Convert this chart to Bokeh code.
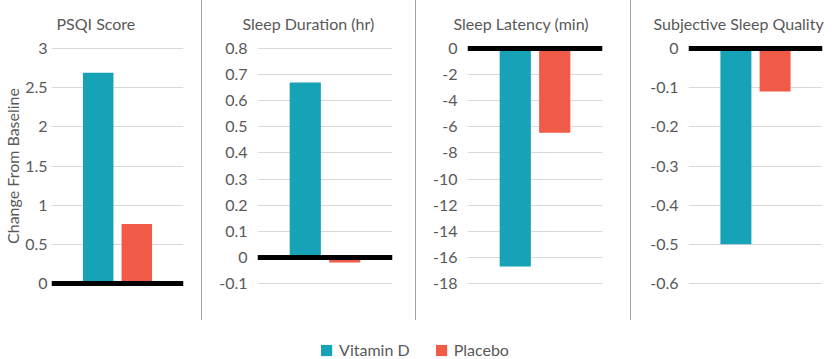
from bokeh.plotting import figure
from bokeh.models import FactorRange, Range1d, FixedTicker, Span, Title, Spacer, Legend, LegendItem
from bokeh.layouts import row, column
from bokeh.embed import file_html
from bokeh.resources import INLINE

# ---------------- data ----------------
series = ["Vitamin D", "Placebo"]
colors = ["#16A2B7", "#EF5B47"]

titles = ["PSQI Score", "Sleep Duration (hr)", "Sleep Latency (min)", "Subjective Sleep Quality"]

psqi = [2.69, 0.76]
duration = [0.67, -0.02]
latency = [-16.7, -6.45]
quality = [-0.50, -0.11]

psqi_ticks = [0, 0.5, 1, 1.5, 2, 2.5, 3]
psqi_labels = ["0", "0.5", "1", "1.5", "2", "2.5", "3"]
duration_ticks = [-0.1, 0, 0.1, 0.2, 0.3, 0.4, 0.5, 0.6, 0.7, 0.8]
duration_labels = ["-0.1", "0", "0.1", "0.2", "0.3", "0.4", "0.5", "0.6", "0.7", "0.8"]
latency_ticks = [-18, -16, -14, -12, -10, -8, -6, -4, -2, 0]
latency_labels = ["-18", "-16", "-14", "-12", "-10", "-8", "-6", "-4", "-2", "0"]
quality_ticks = [-0.6, -0.5, -0.4, -0.3, -0.2, -0.1, 0]
quality_labels = ["-0.6", "-0.5", "-0.4", "-0.3", "-0.2", "-0.1", "0"]

y_label = "Change From Baseline"

# ---------------- styling / layout ----------------
FONT = "Lato"
GREY = "#595959"
panels = [
    (titles[0], psqi, psqi_ticks, psqi_labels),
    (titles[1], duration, duration_ticks, duration_labels),
    (titles[2], latency, latency_ticks, latency_labels),
    (titles[3], quality, quality_ticks, quality_labels),
]
widths = [201, 213, 214, 203]
lefts = [50, 55, 51, 57]
rights = [18, 23, 28, 12]
title_offsets = [5, -15, -14, -35]
label_standoffs = [4, 10, 10, 10]
FIG_H = 320
PAD_PX = 3            # extra frame room so the thick zero line is not clipped
TICK_TOP, TICK_BOTTOM = 48, 283   # pixel rows of the first / last tick
TOP = TICK_TOP - PAD_PX
BOTTOM = FIG_H - TICK_BOTTOM - PAD_PX
TICK_SPAN_PX = TICK_BOTTOM - TICK_TOP
TITLE_SIZE = 16
TITLE_H = TITLE_SIZE * 1.25
TITLE_TOP = 14
TITLE_STANDOFF = 2 * (TOP - TITLE_TOP - TITLE_H)


def make_panel(i, title, vals, ticks, labels):
    lo, hi = min(ticks), max(ticks)
    pad = PAD_PX * (hi - lo) / TICK_SPAN_PX
    p = figure(
        width=widths[i], height=FIG_H,
        x_range=FactorRange(factors=series, range_padding=0.71),
        y_range=Range1d(lo - pad, hi + pad),
        output_backend="svg", toolbar_location=None,
        min_border_left=lefts[i], min_border_right=rights[i],
        min_border_top=TOP, min_border_bottom=BOTTOM,
    )
    p.title = None
    p.add_layout(Title(text=title, align="left", offset=title_offsets[i],
                       text_font=FONT, text_font_size=f"{TITLE_SIZE}px",
                       text_font_style="normal", text_color=GREY,
                       vertical_align="top", standoff=TITLE_STANDOFF), "above")
    p.vbar(x=series, top=vals, bottom=0, width=0.79, fill_color=colors,
           line_color=None)
    p.add_layout(Span(location=0, dimension="width", line_color="black",
                      line_width=5))
    p.xaxis.visible = False
    p.xgrid.visible = False
    p.ygrid.grid_line_color = "#d9d9d9"
    p.ygrid.grid_line_width = 1
    p.outline_line_color = None
    ax = p.yaxis[0]
    ax.ticker = FixedTicker(ticks=ticks)
    ax.major_label_overrides = dict(zip(ticks, labels))
    ax.axis_line_color = None
    ax.major_tick_line_color = None
    ax.minor_tick_line_color = None
    ax.major_tick_out = 0
    ax.major_tick_in = 0
    ax.major_label_text_font = FONT
    ax.major_label_text_font_size = "16px"
    ax.major_label_text_color = GREY
    ax.major_label_standoff = label_standoffs[i]
    if i == 0:
        ax.axis_label = y_label
        ax.axis_label_text_font = FONT
        ax.axis_label_text_font_size = "16px"
        ax.axis_label_text_font_style = "normal"
        ax.axis_label_text_color = GREY
        ax.axis_label_standoff = 0
    return p


figs = [make_panel(i, *panels[i]) for i in range(4)]


def sep():
    return Spacer(width=1, height=FIG_H, styles={"background-color": "#a6a6a6"})


top = row(figs[0], sep(), figs[1], sep(), figs[2], sep(), figs[3])

leg = figure(width=828, height=39, output_backend="svg", toolbar_location=None,
             x_range=FactorRange(factors=series), y_range=Range1d(0, 1),
             min_border_left=0, min_border_right=0, min_border_top=0, min_border_bottom=0)
leg.xaxis.visible = False
leg.yaxis.visible = False
leg.xgrid.visible = False
leg.ygrid.visible = False
leg.outline_line_color = None
items = []
for s, c, v in zip(series, colors, psqi):
    # zero-width proxy bar: only its legend swatch is seen
    r = leg.vbar(x=[s], top=[v], width=0, fill_color=c, line_color=None)
    items.append(LegendItem(label=s, renderers=[r]))
legend = Legend(items=items, orientation="horizontal", location="bottom_center",
                glyph_width=14, glyph_height=14, label_height=14, label_standoff=6,
                spacing=24,
                label_text_font=FONT, label_text_font_size="16px", label_text_color=GREY,
                border_line_color=None, background_fill_alpha=0, padding=0, margin=0)
leg.add_layout(legend, "center")

layout = column(top, leg)
open("out.html", "w").write(file_html(layout, INLINE))
